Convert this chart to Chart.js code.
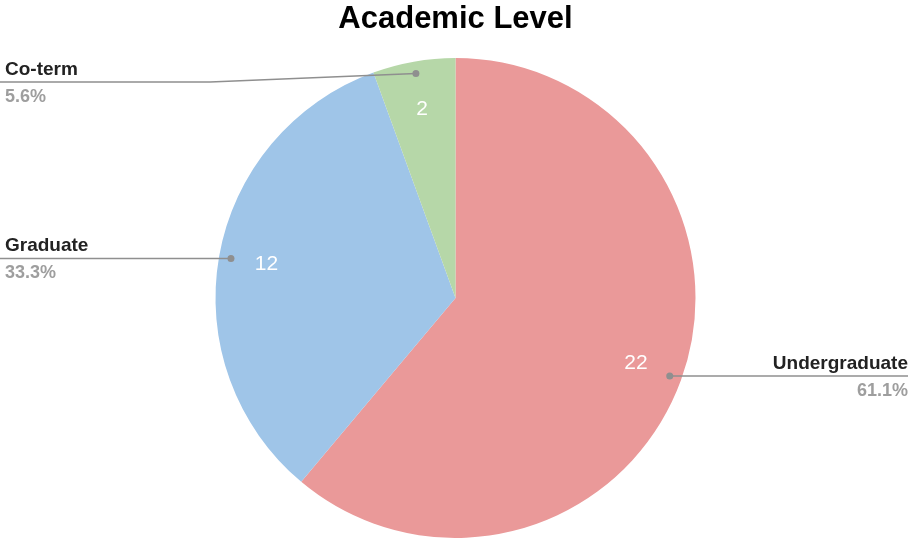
<!DOCTYPE html>
<html>
<head>
<meta charset="utf-8">
<script src="https://cdn.jsdelivr.net/npm/chart.js"></script>
<style>
  html, body { margin: 0; padding: 0; background: #fff; }
  #wrap { width: 911px; height: 538px; position: relative; }
</style>
</head>
<body>
<div id="wrap"><canvas id="levelChart"></canvas></div>
<script>
// Academic level breakdown
const levelLabels = ['Undergraduate', 'Graduate', 'Co-term'];
const levelCounts = [22, 12, 2];
const levelColors = ['#ea9999', '#9fc5e8', '#b6d7a8'];

const FONT = 'Liberation Sans, Arial, sans-serif';

// callout labels outside the pie + counts inside the slices
const calloutPlugin = {
  id: 'callouts',
  afterDatasetsDraw(chart) {
    const ctx = chart.ctx;
    const meta = chart.getDatasetMeta(0);
    const total = levelCounts.reduce((a, b) => a + b, 0);
    const W = chart.width;
    ctx.save();
    meta.data.forEach((arc, i) => {
      const p = arc.getProps(['x', 'y', 'startAngle', 'endAngle', 'outerRadius'], true);
      const mid = (p.startAngle + p.endAngle) / 2;
      const cos = Math.cos(mid), sin = Math.sin(mid);

      // count inside slice
      const vr = p.outerRadius * 0.8;
      ctx.fillStyle = '#fff';
      ctx.font = '21px ' + FONT;
      ctx.textAlign = 'center';
      ctx.textBaseline = 'middle';
      ctx.fillText(String(levelCounts[i]), p.x + cos * vr, p.y + sin * vr);

      // leader line
      const dr = p.outerRadius * 0.95;
      const dx = p.x + cos * dr, dy = p.y + sin * dr;
      const left = cos < 0;
      const ly = Math.max(dy, chart.chartArea.top + 24);
      ctx.strokeStyle = '#8f8f8f';
      ctx.lineWidth = 1.5;
      ctx.beginPath();
      ctx.moveTo(dx, dy);
      if (ly !== dy) {
        ctx.lineTo(210, ly);
      }
      ctx.lineTo(left ? 0 : W - 3, ly);
      ctx.stroke();
      ctx.fillStyle = '#8f8f8f';
      ctx.beginPath();
      ctx.arc(dx, dy, 3.5, 0, Math.PI * 2);
      ctx.fill();

      // name + percentage
      const tx = left ? 5 : W - 3;
      ctx.textAlign = left ? 'left' : 'right';
      ctx.textBaseline = 'alphabetic';
      ctx.font = 'bold 19px ' + FONT;
      ctx.fillStyle = '#222';
      ctx.fillText(levelLabels[i], tx, ly - 7);
      ctx.font = 'bold 18px ' + FONT;
      ctx.fillStyle = '#9e9e9e';
      const pct = (levelCounts[i] / total * 100).toFixed(1) + '%';
      ctx.fillText(pct, tx, ly + 20);
    });
    ctx.restore();
  }
};

new Chart(document.getElementById('levelChart'), {
  type: 'pie',
  data: {
    labels: levelLabels,
    datasets: [{
      data: levelCounts,
      backgroundColor: levelColors,
      borderWidth: 0
    }]
  },
  options: {
    responsive: true,
    maintainAspectRatio: false,
    animation: false,
    layout: { padding: 0 },
    plugins: {
      legend: { display: false },
      tooltip: { enabled: false },
      title: {
        display: true,
        text: 'Academic Level',
        color: '#000',
        font: { family: FONT, size: 31, weight: 'bold', lineHeight: 1.2 },
        padding: { top: 1, bottom: 19.8 }
      }
    }
  },
  plugins: [calloutPlugin]
});
</script>
</body>
</html>
